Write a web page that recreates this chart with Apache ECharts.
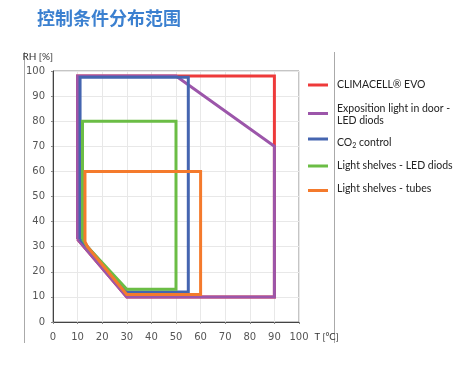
<!DOCTYPE html>
<html><head><meta charset="utf-8">
<script src="https://cdn.jsdelivr.net/npm/echarts@6/dist/echarts.min.js"></script>
<style>html,body{margin:0;padding:0;background:#fff}#c{width:467px;height:388px}</style>
</head><body><div id="c"></div>
<script>
var seriesNames = ['CLIMACELL® EVO', 'Exposition light in door -\nLED diods', 'CO₂ control', 'Light shelves - LED diods', 'Light shelves - tubes'];
var colors = ['#ee3a3a', '#9c56aa', '#4565b0', '#6bbd45', '#f47a2c'];
var climacell = [[10,33],[10,98],[90,98],[90,10],[30,10],[10,33]];
var exposition = [[10,33],[10,98],[50,98],[90,70],[90,10],[30,10],[10,33]];
var co2 = [[11,33],[11,97.5],[55,97.5],[55,12],[30,12],[14,30],[11,33]];
var ledShelves = [[12,33],[12,80],[50,80],[50,13],[30,13],[14,30],[12,33]];
var tubes = [[13,32],[13,60],[60,60],[60,11],[30,11],[14,30],[13,32]];
var seriesData = [climacell, exposition, co2, ledShelves, tubes];
var xTicks = [0,10,20,30,40,50,60,70,80,90,100];
var yTicks = [0,10,20,30,40,50,60,70,80,90,100];

var legendTops = [74, 95, 124, 155, 178];
var legendPads = [[0,0,0,4], [3,0,0,4], [8,0,0,4], [0,0,0,4], [0,0,3,4]];

var chart = echarts.init(document.getElementById('c'));
var font = 'Lato, "Noto Sans", sans-serif';
var legends = seriesNames.map(function(n, i){
  return {
    orient: 'vertical', left: 303, top: legendTops[i], data: [n],
    icon: 'rect', itemWidth: 20, itemHeight: 3, selectedMode: false,
    formatter: function(name){ return name === 'CO₂ control' ? 'CO{sub|2} control' : name; },
    textStyle: { fontFamily: font, fontSize: 10.5, color: '#222', lineHeight: 12, padding: legendPads[i],
      rich: { sub: { fontSize: 7, verticalAlign: 'bottom', padding: [6,0,0,0], fontFamily: font, color: '#222' } } }
  };
});
chart.setOption({
  animation: false,
  title: { text: '控制条件分布范围', left: 32, top: 4,
    textStyle: { fontFamily: '"Noto Sans CJK SC"', fontWeight: 'bold', fontSize: 18, color: '#3b80d0' } },
  legend: legends,
  grid: { left: 53, right: 168, top: 71, bottom: 66, show: true, borderColor: '#8a8a8a', borderWidth: 1 },
  xAxis: { type: 'value', min: 0, max: 100, interval: 10,
    name: 'T [°C]', nameLocation: 'end', nameGap: 12,
    nameTextStyle: { fontFamily: font, fontSize: 9.5, color: '#333', verticalAlign: 'top', padding: [10,0,0,0] },
    axisLine: { lineStyle: { color: '#444', width: 1 } },
    axisTick: { show: true, length: 2, lineStyle: { color: '#888' } },
    axisLabel: { margin: 10, fontFamily: '"DejaVu Sans"', fontSize: 10, color: '#555',
      formatter: function(v){ return xTicks.indexOf(v) >= 0 ? String(v) : ''; } },
    splitLine: { lineStyle: { color: '#e8e8e8' } } },
  yAxis: { type: 'value', min: 0, max: 100, interval: 10,
    name: 'RH [%]', nameLocation: 'end', nameGap: 9,
    nameTextStyle: { fontFamily: font, fontSize: 10, color: '#333', align: 'right' },
    axisLine: { show: true, lineStyle: { color: '#444', width: 1 } },
    axisTick: { show: true, length: 2, lineStyle: { color: '#888' } },
    axisLabel: { margin: 8, fontFamily: '"DejaVu Sans"', fontSize: 10, color: '#555',
      formatter: function(v){ return yTicks.indexOf(v) >= 0 ? String(v) : ''; } },
    splitLine: { lineStyle: { color: '#e8e8e8' } } },
  graphic: [
    { type: 'line', shape: { x1: 24.5, y1: 52, x2: 24.5, y2: 343 }, style: { stroke: '#aaa', lineWidth: 1 } },
    { type: 'line', shape: { x1: 334.5, y1: 52, x2: 334.5, y2: 343 }, style: { stroke: '#aaa', lineWidth: 1 } }
  ],
  series: seriesNames.map(function(n, i){
    return { name: n, type: 'line', data: seriesData[i], showSymbol: false, symbol: 'none',
      color: colors[i], lineStyle: { width: 3, color: colors[i], join: 'miter' }, z: 2 + i };
  })
});
</script></body></html>
